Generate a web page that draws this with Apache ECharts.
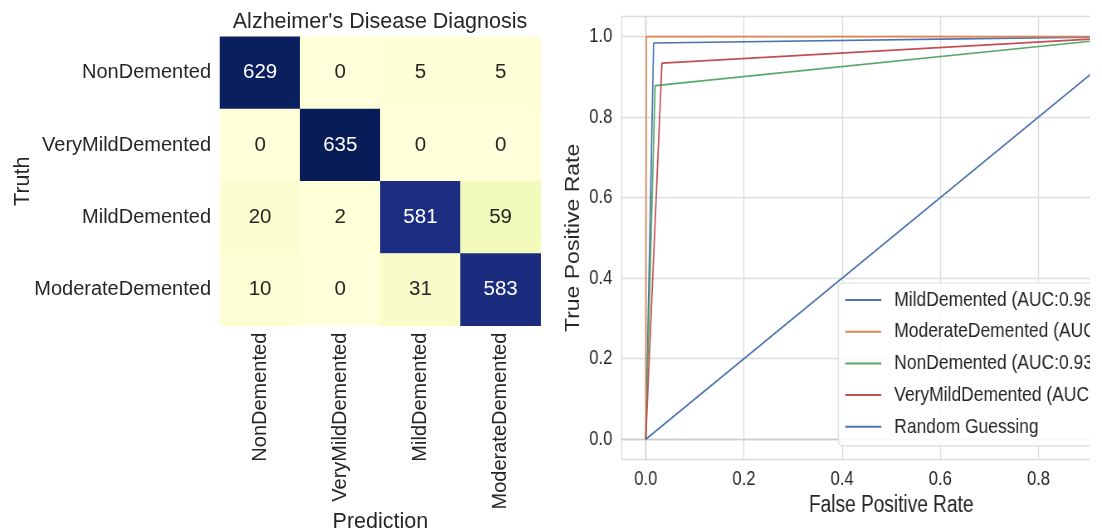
<!DOCTYPE html>
<html>
<head>
<meta charset="utf-8">
<script src="https://cdn.jsdelivr.net/npm/echarts@6/dist/echarts.min.js"></script>
<style>
html,body{margin:0;padding:0;background:#fff;}
#wrap{position:relative;width:1102px;height:530px;overflow:hidden;background:#fff;}
#cm{position:absolute;left:0;top:0;width:550px;height:530px;}
#roc{position:absolute;left:550px;top:0;width:651px;height:530px;transform:scaleX(0.83);transform-origin:0 0;}
</style>
</head>
<body>
<div id="wrap"><div id="cm"></div><div id="roc"></div></div>
<script>
// ---- data ----
var classes = ['NonDemented', 'VeryMildDemented', 'MildDemented', 'ModerateDemented'];
var cmNonDemented = [629, 0, 5, 5];
var cmVeryMild = [0, 635, 0, 0];
var cmMild = [20, 2, 581, 59];
var cmModerate = [10, 0, 31, 583];

var rocNames = ['MildDemented (AUC:0.98)', 'ModerateDemented (AUC:1.00)', 'NonDemented (AUC:0.93)', 'VeryMildDemented (AUC:0.95)'];
var rocMild = [[0, 0], [0.016, 0.984], [1, 1]];
var rocModerate = [[0, 0], [0.001, 1.0], [1, 1]];
var rocNon = [[0, 0], [0.019, 0.878], [1, 1]];
var rocVeryMild = [[0, 0], [0.033, 0.934], [1, 1]];
var randomGuess = [[0, 0], [1, 1]];

// ---- build ----
var rows = [cmNonDemented, cmVeryMild, cmMild, cmModerate];
var heatData = [];
rows.forEach(function (r, yi) {
  r.forEach(function (v, xi) {
    heatData.push({
      value: [xi, yi, v],
      label: { color: v > 318 ? '#ffffff' : '#262626' }
    });
  });
});
var ylgnbu = ['#ffffd9', '#edf8b1', '#c7e9b4', '#7fcdbb', '#41b6c4', '#1d91c0', '#225ea8', '#253494', '#081d58'];
var dark = '#262626';
var font = "'Liberation Sans', Arial, sans-serif";
var gridColor = '#dcdcdc';

var rocColors = ['#4c72b0', '#dd8452', '#55a868', '#c44e52', '#4c72b0'];
var rocSets = [rocMild, rocModerate, rocNon, rocVeryMild, randomGuess];
var rocLabels = rocNames.concat(['Random Guessing']);
var rocSeries = rocSets.map(function (d, i) {
  return {
    type: 'line', name: rocLabels[i],
    data: d, symbol: 'none', showSymbol: false, animation: false,
    lineStyle: { color: rocColors[i], width: 1.7 },
    itemStyle: { color: rocColors[i] }
  };
});

function tickFmt(v) {
  var k = v * 5;
  if (Math.abs(k - Math.round(k)) > 1e-6) return '';
  return v.toFixed(1);
}

// ---- confusion matrix ----
var cm = echarts.init(document.getElementById('cm'), null, { renderer: 'canvas' });
cm.setOption({
  backgroundColor: '#ffffff',
  animation: false,
  textStyle: { fontFamily: font },
  title: {
    text: "Alzheimer's Disease Diagnosis",
    left: 380, top: 11, textAlign: 'center', padding: 0,
    textStyle: { fontFamily: font, fontSize: 21.5, fontWeight: 'normal', color: dark }
  },
  grid: { left: 220, top: 36.7, width: 320.7, height: 289, outerBoundsMode: 'none' },
  xAxis: {
    type: 'category', data: classes,
    axisLine: { show: false }, axisTick: { show: false }, splitLine: { show: false },
    axisLabel: { rotate: 90, margin: 7, fontSize: 20, color: dark, fontFamily: font },
    name: 'Prediction', nameLocation: 'middle', nameGap: 185, nameMoveOverlap: false,
    nameTextStyle: { fontSize: 21.5, color: dark, fontFamily: font }
  },
  yAxis: {
    type: 'category', data: classes, inverse: true,
    axisLine: { show: false }, axisTick: { show: false }, splitLine: { show: false },
    axisLabel: { margin: 9, fontSize: 20, color: dark, fontFamily: font },
    name: 'Truth', nameLocation: 'middle', nameGap: 186, nameMoveOverlap: false,
    nameTextStyle: { fontSize: 21.5, color: dark, fontFamily: font }
  },
  visualMap: {
    show: false, type: 'continuous', seriesIndex: 0, dimension: 2,
    min: 0, max: 635, inRange: { color: ylgnbu }
  },
  series: [{
    type: 'heatmap', data: heatData,
    label: { show: true, fontSize: 20.5, fontFamily: font, formatter: function (p) { return String(p.value[2]); } },
    itemStyle: { borderWidth: 0 },
    emphasis: { disabled: true }
  }]
});

// ---- ROC (drawn in a horizontally compressed panel, like the reference) ----
var roc = echarts.init(document.getElementById('roc'), null, { renderer: 'canvas' });
roc.setOption({
  backgroundColor: '#ffffff',
  animation: false,
  textStyle: { fontFamily: font },
  grid: { left: 85.8, top: 16.4, width: 650.6, height: 443, outerBoundsMode: 'none' },
  xAxis: {
    type: 'value', min: -0.05, max: 1.05, splitNumber: 5,
    axisLine: { show: true, lineStyle: { color: '#cccccc', width: 1.3 } },
    axisTick: { show: false },
    splitLine: { show: true, lineStyle: { color: gridColor, width: 1.3 } },
    axisLabel: { formatter: tickFmt, margin: 10, fontSize: 20, color: dark, fontFamily: font },
    name: 'False Positive Rate', nameLocation: 'middle', nameGap: 31,
    nameTextStyle: { fontSize: 23, color: dark, fontFamily: font }
  },
  yAxis: {
    type: 'value', min: -0.05, max: 1.05, splitNumber: 5,
    axisLine: { show: true, lineStyle: { color: '#cccccc', width: 1.3 } },
    axisTick: { show: false },
    splitLine: { show: true, lineStyle: { color: gridColor, width: 1.3 } },
    axisLabel: { formatter: tickFmt, margin: 10.8, fontSize: 20, color: dark, fontFamily: font },
    name: 'True Positive Rate', nameLocation: 'middle', nameGap: 46, nameMoveOverlap: false,
    nameTextStyle: { fontSize: 23, color: dark, fontFamily: font }
  },
  legend: {
    orient: 'vertical', left: 347.3, top: 283,
    padding: [5, 40, 7, 8.4],
    itemWidth: 43.4, itemHeight: 2, itemGap: 7.7,
    icon: 'rect',
    backgroundColor: 'rgba(255,255,255,0.85)',
    borderColor: '#dddddd', borderWidth: 1.2, borderRadius: 5,
    data: rocLabels,
    textStyle: { fontSize: 21, color: dark, fontFamily: font, padding: [0, 0, 0, 10.7], lineHeight: 24 }
  },
  series: rocSeries
});
</script>
</body>
</html>
